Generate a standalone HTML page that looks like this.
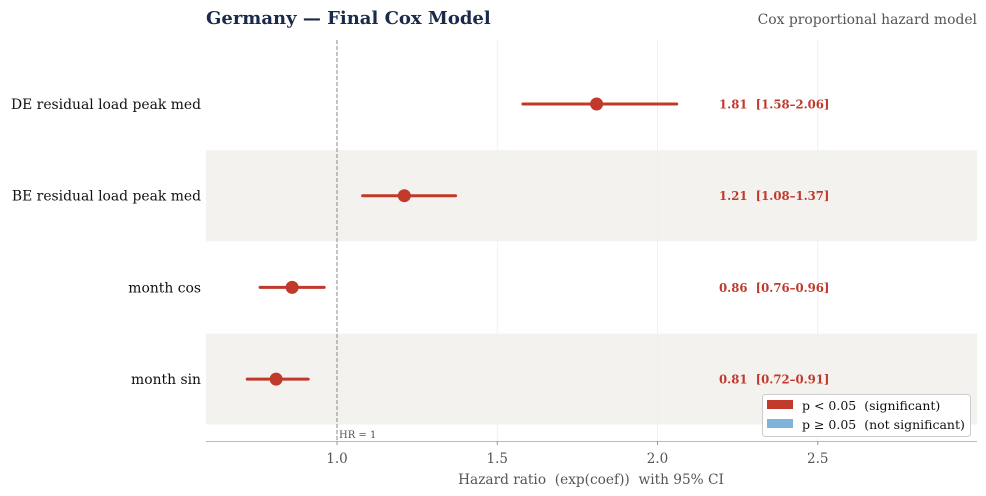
<!DOCTYPE html>
<html><head><meta charset="utf-8"><style>
body{margin:0;background:#fff;font-family:"DejaVu Serif","Liberation Serif",serif}
svg{display:block}
text{white-space:pre}
</style></head><body>
<svg id="c" width="986" height="496" xmlns="http://www.w3.org/2000/svg">
<text x="206" y="24" font-size="18" font-weight="bold" fill="#1a2a4a">Germany — Final Cox Model</text>
<text x="977" y="24" font-size="13.9" fill="#555" text-anchor="end">Cox proportional hazard model</text>
<g id="bands"></g><g id="grid"></g><g id="marks"></g>
<line x1="206" y1="441.5" x2="977" y2="441.5" stroke="#bbb"/>
<g id="ticks"></g>
<text x="591" y="484" font-size="13.7" fill="#555" text-anchor="middle">Hazard ratio  (exp(coef))  with 95% CI</text>
<g>
<rect x="762.5" y="394.5" width="208" height="42" rx="3" fill="#fff" stroke="#ccc"/>
<rect x="767" y="400" width="26" height="9" fill="#c0392b"/>
<text x="802" y="410" font-size="12.5" fill="#111">p &lt; 0.05  (significant)</text>
<rect x="767" y="419" width="26" height="9" fill="#7fb3d8"/>
<text x="802" y="429" font-size="12.5" fill="#111">p ≥ 0.05  (not significant)</text>
</g>
</svg>
<script>
const labels=["DE residual load peak med","BE residual load peak med","month cos","month sin"];
const hr=[1.81,1.21,0.86,0.81];
const lo=[1.58,1.08,0.76,0.72];
const hi=[2.06,1.37,0.96,0.91];
const tickVals=[1.0,1.5,2.0,2.5];
const tickLabels=["1.0","1.5","2.0","2.5"];
const NS="http://www.w3.org/2000/svg";
const x=v=>337+(v-1)*320.5;
const y=i=>104+i*91.7;
function mk(p,t,a){const e=document.createElementNS(NS,t);for(const k in a)e.setAttribute(k,a[k]);document.getElementById(p).appendChild(e);return e;}
tickVals.forEach((v,i)=>{
 const g=mk('grid','line',{x1:x(v),x2:x(v),y1:40,y2:441,stroke:'#eee','stroke-width':0.8});
 
 
 const t=mk('ticks','line',{x1:x(v),x2:x(v),y1:441,y2:445,stroke:'#999'});
 
 
 const l=mk('ticks','text',{x:x(v),y:463,'font-size':13.5,fill:'#555','text-anchor':'middle'});
 l.textContent=tickLabels[i];
 
 
});
const ref=mk('grid','line',{x1:x(1),x2:x(1),y1:40,y2:441,stroke:'#888','stroke-dasharray':'4,2'});


const rl=mk('grid','text',{x:x(1)+2,y:438,'font-size':10,fill:'#555'});rl.textContent='HR = 1';


labels.forEach((lab,i)=>{
 if(i%2==1){const b=mk('bands','rect',{x:206,y:y(i)-45.5,width:771,height:91,fill:'#f3f2ef'});
  
  }
 const t=mk('marks','text',{x:201,y:y(i)+5,'font-size':13.9,fill:'#111','text-anchor':'end'});t.textContent=lab;
 
 
 const ci=mk('marks','line',{x1:x(lo[i]),x2:x(hi[i]),y1:y(i),y2:y(i),stroke:'#c0392b','stroke-width':3,'stroke-linecap':'round'});
 
 
 const d=mk('marks','circle',{cx:x(hr[i]),cy:y(i),r:6.5,fill:'#c0392b'});
 
 
 const v=mk('marks','text',{x:719,y:y(i)+4.5,'font-size':11.7,'font-weight':'bold',fill:'#c0392b'});
 v.textContent=hr[i].toFixed(2)+'  ['+lo[i].toFixed(2)+'–'+hi[i].toFixed(2)+']';
 
 
});
</script>
</body></html>
